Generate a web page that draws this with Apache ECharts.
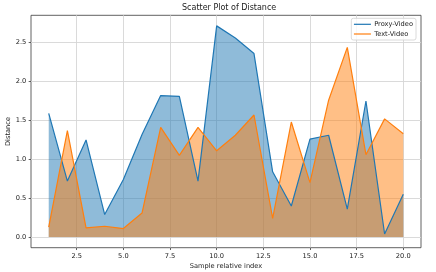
<!DOCTYPE html>
<html>
<head>
<meta charset="utf-8">
<script src="https://cdn.jsdelivr.net/npm/echarts@6/dist/echarts.min.js"></script>
<style>html,body{margin:0;padding:0;background:#fff;}#c{width:436px;height:272px;}</style>
</head>
<body>
<div id="c"></div>
<script>
const sampleIndex = [1,2,3,4,5,6,7,8,9,10,11,12,13,14,15,16,17,18,19,20];
const proxyVideo = [1.59,0.72,1.25,0.29,0.74,1.32,1.82,1.81,0.72,2.716,2.56,2.36,0.84,0.40,1.26,1.31,0.36,1.75,0.04,0.55];
const textVideo  = [0.13,1.37,0.12,0.14,0.11,0.31,1.41,1.05,1.41,1.11,1.31,1.57,0.24,1.48,0.70,1.76,2.44,1.06,1.52,1.33];
const xTicks = [2.5,5,7.5,10,12.5,15,17.5,20];
const yTicks = [0,0.5,1,1.5,2,2.5];

const FONT = 'DejaVu Sans';
const pairs = arr => sampleIndex.map((x,i)=>[x,arr[i]]);
const BLUE = '#1f77b4', ORANGE = '#ff7f0e';

const chart = echarts.init(document.getElementById('c'), null, {renderer:'canvas'});
chart.setOption({
  animation:false,
  backgroundColor:'#fff',
  title:{text:'Scatter Plot of Distance', left:182, top:3.5, padding:0,
    textStyle:{fontFamily:FONT,fontSize:8,fontWeight:'normal',color:'#1a1a1a'}},
  legend:{
    data:['Proxy-Video','Text-Video'],
    orient:'vertical', right:20, top:18.3,
    padding:[2.5,3,2.5,2], itemWidth:17, itemHeight:7, itemGap:2.7,
    backgroundColor:'rgba(255,255,255,0.8)', borderColor:'#d0d0d0', borderWidth:0.8, borderRadius:2,
    lineStyle:{width:1.2},
    itemStyle:{opacity:0},
    textStyle:{fontFamily:FONT,fontSize:6.67,color:'#1a1a1a',padding:[0,0,0,-1.7]}
  },
  grid:{left:31,right:15,top:15.3,bottom:24.3,show:true,borderColor:'#3a3a3a',borderWidth:0.8,
    containLabel:false,outerBoundsMode:'none'},
  xAxis:{type:'value',min:0.05,max:20.95,
    name:'Sample relative index',nameLocation:'middle',nameGap:15,nameMoveOverlap:false,
    nameTextStyle:{fontFamily:FONT,fontSize:6.67,color:'#1a1a1a'},
    axisLine:{show:false,onZero:false},
    axisTick:{show:true,customValues:xTicks,length:2.33,lineStyle:{color:'#3a3a3a',width:0.8}},
    axisLabel:{customValues:xTicks,margin:4.7,fontFamily:FONT,fontSize:6.67,color:'#1a1a1a',formatter:v=>v.toFixed(1)},
    splitLine:{show:true,customValues:xTicks,lineStyle:{color:'#d6d6d6',width:0.9}}
  },
  yAxis:{type:'value',min:-0.136,max:2.852,
    name:'Distance',nameLocation:'middle',nameGap:19,nameMoveOverlap:false,
    nameTextStyle:{fontFamily:FONT,fontSize:6.67,color:'#1a1a1a'},
    axisLine:{show:false,onZero:false},
    axisTick:{show:true,customValues:yTicks,length:2.33,lineStyle:{color:'#3a3a3a',width:0.8}},
    axisLabel:{customValues:yTicks,margin:4.7,fontFamily:FONT,fontSize:6.67,color:'#1a1a1a',formatter:v=>v.toFixed(1)},
    splitLine:{show:true,customValues:yTicks,lineStyle:{color:'#d6d6d6',width:0.9}}
  },
  series:[
    {name:'Proxy-Video fill',type:'line',data:pairs(proxyVideo),symbol:'none',silent:true,
      lineStyle:{width:0,opacity:0},areaStyle:{color:BLUE,opacity:0.5,origin:0},z:2},
    {name:'Text-Video fill',type:'line',data:pairs(textVideo),symbol:'none',silent:true,
      lineStyle:{width:0,opacity:0},areaStyle:{color:ORANGE,opacity:0.5,origin:0},z:2},
    {name:'Proxy-Video',type:'line',data:pairs(proxyVideo),symbol:'none',color:BLUE,
      lineStyle:{width:1.2,color:BLUE},z:3},
    {name:'Text-Video',type:'line',data:pairs(textVideo),symbol:'none',color:ORANGE,
      lineStyle:{width:1.2,color:ORANGE},z:3}
  ]
});
</script>
</body>
</html>
